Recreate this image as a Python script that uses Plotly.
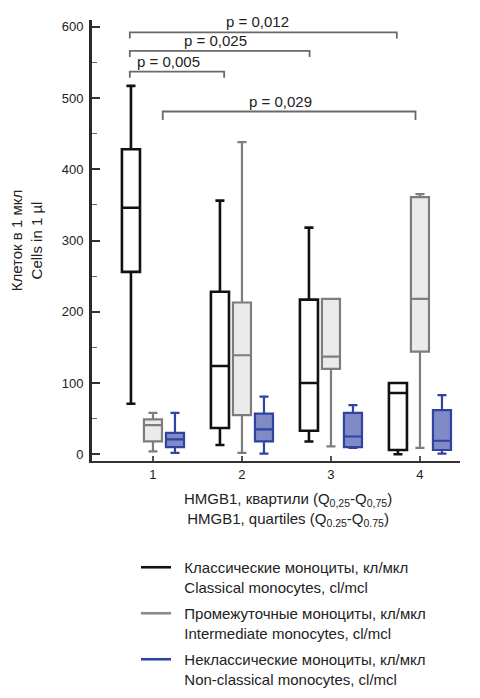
import plotly.graph_objects as go

groups = ["1", "2", "3", "4"]

classical_low = [71, 13, 18, 0]
classical_q1 = [256, 37, 33, 6]
classical_med = [346, 124, 100, 86]
classical_q3 = [428, 228, 217, 100]
classical_high = [517, 356, 318, 100]

inter_low = [4, 2, 11, 9]
inter_q1 = [18, 55, 120, 144]
inter_med = [41, 139, 137, 218]
inter_q3 = [49, 213, 218, 361]
inter_high = [58, 438, 218, 365]

nonc_low = [2, 1, 9, 1]
nonc_q1 = [10, 18, 10, 6]
nonc_med = [21, 35, 25, 19]
nonc_q3 = [30, 57, 58, 62]
nonc_high = [58, 81, 69, 83]

series_names = [
    "Классические моноциты, кл/мкл<br>Classical monocytes, cl/mcl",
    "Промежуточные моноциты, кл/мкл<br>Intermediate monocytes, cl/mcl",
    "Неклассические моноциты, кл/мкл<br>Non-classical monocytes, cl/mcl",
]

# comparisons: (x start, x end, bracket height, label, label x)
comparisons = [
    (-0.26, 2.74, 592, "p = 0,012", 1.17),
    (-0.26, 1.76, 566, "p = 0,025", 0.70),
    (-0.26, 0.80, 537, "p = 0,005", 0.17),
    (0.11, 2.95, 481, "p = 0,029", 1.43),
]

FONT = "Liberation Sans, Arial, sans-serif"

styles = [
    dict(line=dict(color="#111111", width=2.6), fillcolor="#ffffff"),
    dict(line=dict(color="#7d7d7d", width=2.2), fillcolor="#ebebeb"),
    dict(line=dict(color="#2f43a0", width=2.2), fillcolor="#7f8ac6"),
]
legend_colors = ["#111111", "#8a8a8a", "#2f43a0"]

data_sets = [
    (classical_low, classical_q1, classical_med, classical_q3, classical_high),
    (inter_low, inter_q1, inter_med, inter_q3, inter_high),
    (nonc_low, nonc_q1, nonc_med, nonc_q3, nonc_high),
]

fig = go.Figure()
for i, (lo, q1, med, q3, hi) in enumerate(data_sets):
    fig.add_trace(go.Box(
        x=groups, q1=q1, median=med, q3=q3, lowerfence=lo, upperfence=hi,
        boxpoints=False, whiskerwidth=0.5, showlegend=False,
        hoverinfo="skip", name=series_names[i], **styles[i]))

pad = "\u00a0\u00a0"
for i, name in enumerate(series_names):
    label = "<br>".join(pad + part for part in name.split("<br>"))
    fig.add_trace(go.Scatter(
        x=[None], y=[None], mode="lines", name=label, legendgroup=str(i),
        line=dict(color=legend_colors[i], width=2.6)))

shapes = []
annotations = []
for x0, x1, yb, label, lx in comparisons:
    drop = 8.5 if yb > 500 else 12
    shapes.append(dict(
        type="path", xref="x", yref="y",
        path=f"M {x0},{yb - drop} L {x0},{yb} L {x1},{yb} L {x1},{yb - drop}",
        line=dict(color="#6a6a6a", width=1.8)))
    annotations.append(dict(
        x=lx, y=yb, xref="x", yref="y", text=label, showarrow=False,
        yanchor="bottom", yshift=0, font=dict(size=15, color="#222", family=FONT)))

annotations.append(dict(
    x=(288 - 8 - 84) / 368, y=0, xref="paper", yref="paper",
    text="HMGB1, квартили (Q<sub>0,25</sub>-Q<sub>0,75</sub>)<br>HMGB1, quartiles (Q<sub>0.25</sub>-Q<sub>0.75</sub>)",
    showarrow=False, yanchor="top", yshift=-27,
    font=dict(size=15, color="#222", family=FONT)))

fig.update_layout(
    width=472, height=690,
    margin=dict(l=84, r=20, t=12, b=237, autoexpand=False),
    paper_bgcolor="white", plot_bgcolor="white",
    font=dict(family=FONT, color="#222", size=13),
    boxmode="group", boxgap=0.258, boxgroupgap=0.18,
    shapes=shapes, annotations=annotations,
    legend=dict(
        x=(128 - 84) / 368, y=-(543 - 453) / 441,
        xanchor="left", yanchor="top", valign="top",
        font=dict(size=15, family=FONT, color="#222"),
        tracegroupgap=4, bgcolor="rgba(0,0,0,0)"),
)

fig.update_xaxes(
    type="category", range=[-0.685, 3.45],
    showline=True, linecolor="#333", linewidth=2,
    ticks="inside", ticklen=5, tickcolor="#555", tickwidth=1.5,
    showgrid=False, zeroline=False,
    tickfont=dict(size=13, color="#222"))

fig.update_yaxes(
    range=[-9.4, 609.4],
    tickvals=[0, 100, 200, 300, 400, 500, 600],
    showline=True, linecolor="#2a2a2a", linewidth=3,
    ticks="inside", ticklen=8, tickcolor="#333", tickwidth=1.5,
    minor=dict(dtick=50, ticks="inside", ticklen=5, tickcolor="#666", tickwidth=1),
    showgrid=False, zeroline=False, ticklabelstandoff=3,
    tickfont=dict(size=13, color="#222"),
    title=dict(text="Клеток в 1 мкл<br>Cells in 1 µl",
               font=dict(size=15, color="#222"), standoff=19))

fig.write_html("out.html")
